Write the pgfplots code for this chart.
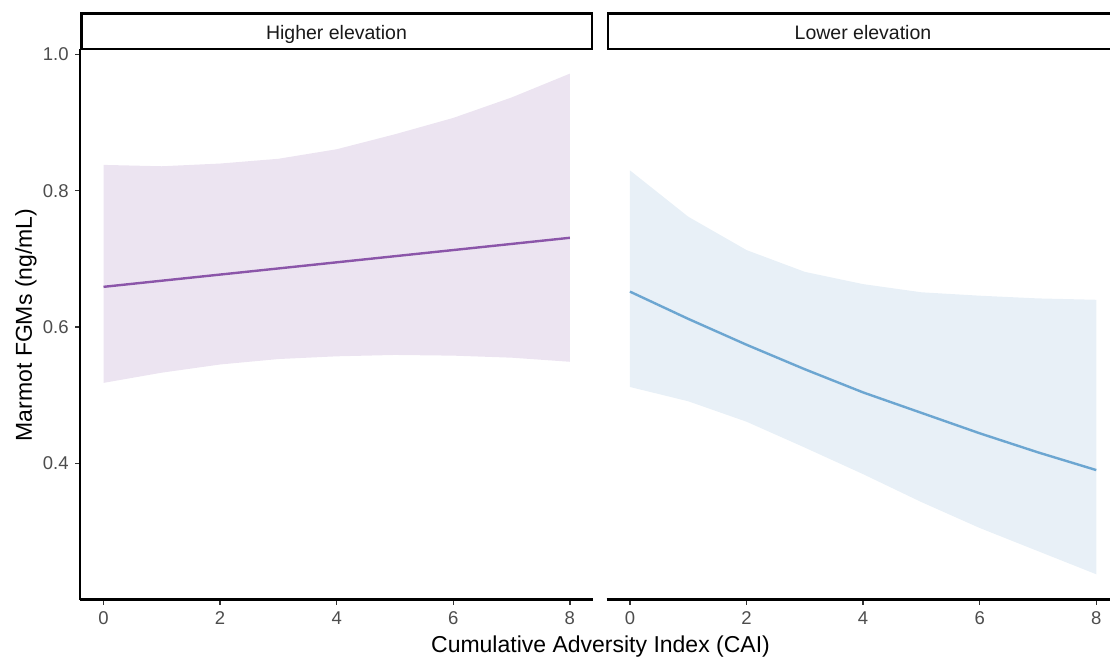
\documentclass[border=0pt]{standalone}
\usepackage{pgfplots}
\usepackage{pgfplotstable}
\pgfplotsset{compat=1.18}
\usepgfplotslibrary{fillbetween}
\usepackage{fontspec}
\setmainfont{Liberation Sans}
\definecolor{pline}{HTML}{8B55A9}
\definecolor{pfill}{HTML}{ECE4F1}
\definecolor{bline}{HTML}{6CA6D1}
\definecolor{bfill}{HTML}{E8F0F7}
\definecolor{ticktext}{HTML}{4D4D4D}
\definecolor{tickcol}{HTML}{333333}

\pgfplotstableread{
x mid up lo
0 0.659 0.838 0.518
1 0.668 0.836 0.533
2 0.677 0.840 0.545
3 0.686 0.847 0.553
4 0.695 0.861 0.557
5 0.704 0.883 0.559
6 0.713 0.907 0.558
7 0.722 0.937 0.555
8 0.731 0.972 0.549
}\highertab
\pgfplotstableread{
x mid up lo
0 0.652 0.830 0.512
1 0.612 0.762 0.491
2 0.574 0.713 0.461
3 0.538 0.681 0.423
4 0.504 0.663 0.384
5 0.474 0.651 0.343
6 0.444 0.646 0.305
7 0.416 0.642 0.271
8 0.390 0.640 0.237
}\lowertab

\begin{document}
\begin{tikzpicture}[x=1pt,y=1pt]
\pgfplotsset{
  panel/.style={
    anchor=south west, scale only axis, width=513pt, height=550.4pt,
    xmin=-0.4, xmax=8.4, ymin=0.2, ymax=1.008,
    axis x line*=bottom,
    axis line style={line width=2.2pt, black, -},
    xtick={0,2,4,6,8}, xticklabels={0,2,4,6,8},
    tick align=outside, major tick length=5pt,
    tick style={line width=1.3pt, color=tickcol},
    tick label style={font=\fontsize{18.5}{20}\selectfont, text=ticktext},
    xticklabel style={yshift=-4pt},
    yticklabel style={xshift=-3pt},
    /pgf/number format/assume math mode=true,
  }
}
\begin{axis}[panel, at={(80.2pt,57.5pt)},
  axis y line*=left,
  ytick={0.4,0.6,0.8,1.0}, yticklabels={0.4,0.6,0.8,1.0}]
  \addplot[draw=none, name path=hu, forget plot] table[x=x, y=up] {\highertab};
  \addplot[draw=none, name path=hl, forget plot] table[x=x, y=lo] {\highertab};
  \addplot[pfill, draw=none] fill between[of=hu and hl];
  \addplot[pline, line width=2.4pt] table[x=x, y=mid] {\highertab};
\end{axis}
\begin{axis}[panel, at={(606.6pt,57.5pt)},
  axis y line=none, ytick=\empty]
  \addplot[draw=none, name path=lu, forget plot] table[x=x, y=up] {\lowertab};
  \addplot[draw=none, name path=ll, forget plot] table[x=x, y=lo] {\lowertab};
  \addplot[bfill, draw=none] fill between[of=lu and ll];
  \addplot[bline, line width=2.4pt] table[x=x, y=mid] {\lowertab};
\end{axis}
% facet strips
\draw[line width=2.4pt, fill=white] (81.4,608.2) rectangle (591.8,643.6);
\node[font=\fontsize{19.5}{22}\selectfont, anchor=base, text=black!90] at (336.5,617) {Higher elevation};
\draw[line width=2.4pt, fill=white] (607.8,608.2) rectangle (1125,643.6);
\node[font=\fontsize{19.5}{22}\selectfont, anchor=base, text=black!90] at (863,617) {Lower elevation};
% axis titles
\node[font=\fontsize{23}{26}\selectfont, anchor=base] at (600.5,5) {Cumulative Adversity Index (CAI)};
\node[font=\fontsize{23}{26}\selectfont, anchor=base, rotate=90] at (32,332) {Marmot FGMs (ng/mL)};
\pgfresetboundingbox
\useasboundingbox (0,0) rectangle (1110,657);
\end{tikzpicture}
\end{document}
